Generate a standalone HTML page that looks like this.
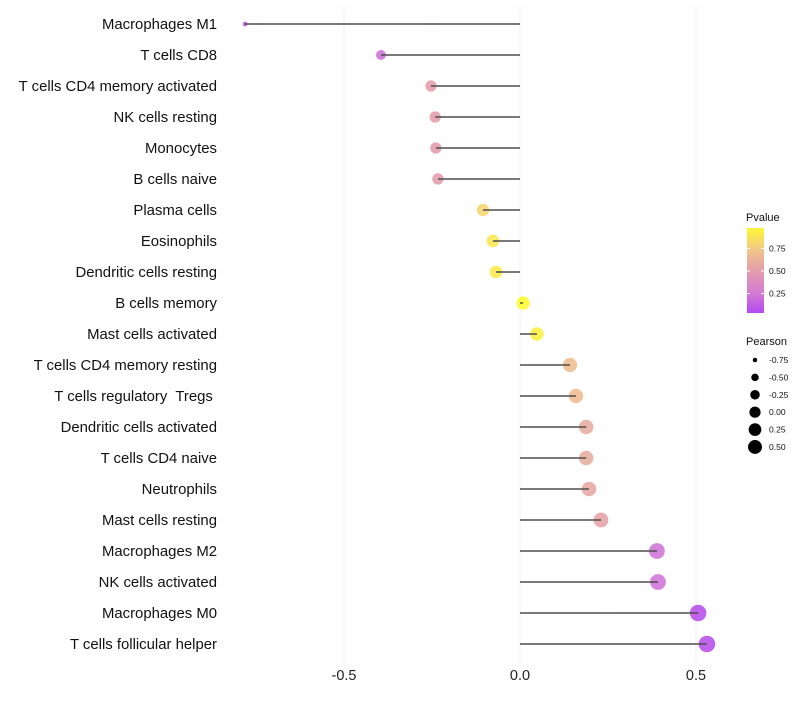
<!DOCTYPE html>
<html><head><meta charset="utf-8"><style>
body{margin:0;background:#fff;font-family:"Liberation Sans",sans-serif}
svg text{font-family:"Liberation Sans",sans-serif;white-space:pre}
</style></head><body>
<svg id="chart" width="800" height="700" xmlns="http://www.w3.org/2000/svg"></svg>
<script>
const categories=["Macrophages M1","T cells CD8","T cells CD4 memory activated","NK cells resting","Monocytes","B cells naive","Plasma cells","Eosinophils","Dendritic cells resting","B cells memory","Mast cells activated","T cells CD4 memory resting","T cells regulatory  Tregs ","Dendritic cells activated","T cells CD4 naive","Neutrophils","Mast cells resting","Macrophages M2","NK cells activated","Macrophages M0","T cells follicular helper"];
const pearson=[-0.781,-0.395,-0.253,-0.241,-0.239,-0.233,-0.105,-0.077,-0.068,0.009,0.048,0.142,0.159,0.188,0.188,0.196,0.230,0.389,0.392,0.506,0.531];
const pvalue=[0.02,0.2,0.5,0.5,0.5,0.5,0.8,0.88,0.9,0.99,0.93,0.68,0.66,0.58,0.58,0.56,0.52,0.22,0.22,0.06,0.06];
const xTicks=[-0.5,0,0.5];
const xMinor=[-0.75,-0.25,0.25];
const pTicks=[0.25,0.5,0.75];
const sizeBreaks=[-0.75,-0.5,-0.25,0,0.25,0.5];

const svg=document.getElementById('chart');
const NS='http://www.w3.org/2000/svg';
function mk(tag,attrs,parent){const e=document.createElementNS(NS,tag);for(const k in attrs)e.setAttribute(k,attrs[k]);(parent||svg).appendChild(e);return e;}
const x=v=>520+v*352;
const y=i=>24+i*31;
const rad=v=>Math.sqrt(4+(v+0.78)*(64-4)/1.31)+0.3;
const stops=[[0,[160,32,240]],[0.25,[205,100,205]],[0.5,[222,140,155]],[0.75,[242,192,110]],[1,[255,255,0]]];
function col(p){for(let i=1;i<stops.length;i++){if(p<=stops[i][0]){const a=stops[i-1],b=stops[i],t=(p-a[0])/(b[0]-a[0]);const c=a[1].map((v,k)=>Math.round(v+(b[1][k]-v)*t));return `rgb(${c})`;}}return 'rgb(255,255,0)';}

xMinor.forEach(v=>{const l=mk('line',{x1:x(v),x2:x(v),y1:5,y2:662,stroke:'#f5f5f5','stroke-width':0.6});
});
xTicks.forEach(v=>{const l=mk('line',{x1:x(v),x2:x(v),y1:5,y2:662,stroke:'#efefef','stroke-width':1.1});

const t=mk('text',{x:x(v),y:680,'text-anchor':'middle','font-size':14.5,fill:'#222'});t.textContent=v===0?'0.0':v.toFixed(1);
});

categories.forEach((c,i)=>{
const t=mk('text',{x:217,y:y(i)+5,'text-anchor':'end','font-size':14.9,fill:'#111'});t.textContent=c;

const pt=mk('circle',{cx:x(pearson[i]),cy:y(i),r:rad(pearson[i]),fill:col(pvalue[i]),'fill-opacity':0.75});

const s=mk('line',{x1:x(0),x2:x(pearson[i]),y1:y(i),y2:y(i),stroke:'#4d4d4d','stroke-width':1.4});

});

const g=mk('g',{});
const tt=mk('text',{x:746,y:221,'font-size':11,fill:'#111'},g);tt.textContent='Pvalue';
const defs=mk('defs',{});const lg=mk('linearGradient',{id:'pg',x1:0,y1:1,x2:0,y2:0},defs);
for(let p=0.03;p<=0.975;p+=0.05){mk('stop',{offset:(p-0.03)/0.94,'stop-color':col(p),'stop-opacity':0.85},lg);}
mk('rect',{x:747,y:228,width:17,height:85,fill:'url(#pg)'},g);
const py=p=>316-p*90;
pTicks.forEach(p=>{mk('line',{x1:747,x2:750,y1:py(p),y2:py(p),stroke:'#fff'},g);mk('line',{x1:761,x2:764,y1:py(p),y2:py(p),stroke:'#fff'},g);
const t=mk('text',{x:769,y:py(p)+3,'font-size':8.5,fill:'#111'},g);t.textContent=p.toFixed(2);});
const g2=mk('g',{});
const t2=mk('text',{x:746,y:345,'font-size':11,fill:'#111'},g2);t2.textContent='Pearson';
sizeBreaks.forEach((v,i)=>{const cy=360+i*17.4;mk('circle',{cx:755,cy:cy,r:rad(v)*0.85,fill:'#000'},g2);
const t=mk('text',{x:769,y:cy+3,'font-size':8.5,fill:'#111'},g2);t.textContent=v.toFixed(2);});
</script>
</body></html>
